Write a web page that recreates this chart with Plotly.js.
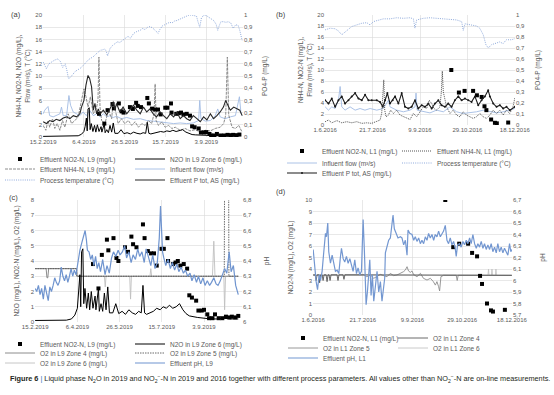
<!DOCTYPE html>
<html><head><meta charset="utf-8">
<script src="https://cdn.plot.ly/plotly-3.0.1.min.js"></script>
<style>html,body{margin:0;padding:0;background:#fff}</style>
</head><body>
<div id="chart" style="width:554px;height:395px"></div>
<script>
// ---------- DATA ----------
const start2019 = '2019-02-15';
const start2016 = '2016-06-01';

// Panel (a) + (c): 2019, line L9 (days after 15.2.2019)
const tempA_days = [0,4,7,10,14,18,21,24,27,29,31,33,36,39,42,45,49,52,55,58,61,64,67,70,73,75,77,79,82,85,88,91,94,98,101,104,107,111,115,119,122,125,128,131,134,137,139,141,143,146,149,152,155,158,161,164,167,170,173,176,179,182,185,188,190,192,194,197,200,203,206,209,212,214,216,218,221,224,227,230,233,236,239,241,244];
const tempA_vals = [12.3,11.2,12.0,12.3,12.6,12.8,12.4,11.4,12.0,11.0,9.6,9.7,10.3,10.7,11.0,11.2,11.7,12.2,12.6,12.9,13.1,13.5,13.9,14.2,14.3,14.4,14.2,13.3,14.5,15.0,15.3,15.6,15.5,15.9,16.3,16.5,16.2,17.0,17.3,17.5,17.8,17.6,18.0,18.1,17.9,17.5,17.3,17.0,17.6,18.2,18.4,18.6,18.8,18.7,19.0,19.1,19.3,19.5,19.6,19.9,20.0,20.0,19.9,19.8,18.8,18.0,19.5,20.0,19.9,19.6,19.3,19.1,18.5,17.5,18.3,18.9,18.9,18.8,18.9,18.7,17.8,18.4,18.3,17.5,15.8];

const flowA_days = [0,2,6,8,12.3,16.4,20.5,22.5,24.6,28.7,31.6,33.6,36.9,41,45,49,53,57,61.5,65.6,69.7,73.8,77.9,82,86,90,96,102.5,110.7,119,127,135,143.4,151.6,160,168,176,184,190.6,192,193.4,198.8,205,211,214,217,223,229.5,235.7,240.6,242.6,244];
const flowA_vals = [3.8,4.4,5.0,3.5,3.3,3.5,3.8,4.9,3.5,3.5,6.8,5.2,4.1,3.8,3.5,4.1,3.5,4.4,3.5,3.8,3.3,3.8,3.3,3.5,3.2,3.4,3.0,3.2,2.9,3.0,2.7,2.6,2.5,2.3,2.2,2.3,2.2,2.3,2.7,6.0,3.0,2.6,2.7,3.5,4.6,3.3,3.0,3.3,3.5,6.6,3.8,3.5];

const nh4A_days = [0,3.3,6,8,11.5,14.3,17.2,20.5,23.8,26.6,30.7,34.8,39,43,47,50,52.5,55,58,61.5,65.6,67.2,68.4,69.7,71.7,75.8,80,84,86,88,92,96,100,104.5,108.6,112.7,116.8,121,125,129,133,136,137.3,138.5,141.4,145.5,149.6,153.7,157.8,162,168,174,180,186.5,192.6,198.8,205,211,217,221.3,223.8,225.8,227.5,231.6,235.7,239.8,243.9];
const nh4A_vals = [1.9,1.1,2.7,1.6,3.0,1.4,2.2,1.1,2.7,1.6,3.8,2.2,2.7,3.3,6.0,7.9,6.6,4.9,6.6,3.8,4.9,6.0,13.1,4.9,2.7,2.2,4.4,3.0,6.0,4.9,2.2,3.0,2.2,2.7,1.9,2.5,1.6,2.2,1.9,2.7,2.2,3.8,8.7,2.7,1.9,2.5,1.6,1.9,1.4,1.6,1.1,1.4,1.0,1.2,0.8,1.1,1.0,1.4,1.6,2.2,3.6,13.1,3.6,1.6,1.4,1.9,0.8];

const ptotA_days = [0,4,8,12,16,20.5,24.6,28.7,32.8,37,41,45,47,50,52.5,55,57,59.4,61.5,63.5,65.6,67.6,69.7,73.8,78,82,86,88,90,94,98,102.5,106.6,110.7,114.8,119,123,127,131,135,139,143.4,147.5,151.6,155.7,160,164,168,172,176,180,184,188.5,192.6,196.7,200.8,205,209,213,217,221,223.8,227.5,229.5,233.6,237.7,241,244];
const ptotA_vals = [0.125,0.11,0.135,0.125,0.145,0.135,0.155,0.165,0.15,0.175,0.165,0.19,0.245,0.3,0.425,0.505,0.48,0.41,0.22,0.275,0.19,0.23,0.19,0.22,0.18,0.23,0.285,0.22,0.275,0.205,0.245,0.19,0.23,0.26,0.22,0.19,0.245,0.205,0.23,0.19,0.165,0.205,0.175,0.15,0.19,0.165,0.205,0.15,0.175,0.15,0.135,0.175,0.15,0.125,0.165,0.14,0.19,0.15,0.175,0.205,0.245,0.3,0.245,0.22,0.245,0.23,0.22,0.175];

const n2o_days = [0,18,37,43,47,50,51.5,53,54,55,56.5,57.6,59,61,63,64.6,66.5,68.5,71,72,75,76,78,80,82,84,86,88,92,95.5,99,103,107,111,115,119,122.6,125.7,127.7,129.6,132,136,140,144,148,151.6,155.5,159,163,167,171,175,178.7,182.6,186.5,192,200,207.7,215.5,223,231,240.6];
const n2o_vals = [0.1,0.1,0.12,0.2,0.45,0.9,1.75,3.1,1.0,4.6,4.8,1.2,2.2,0.9,1.9,0.8,2.0,0.9,1.7,0.8,2.2,0.7,1.2,0.7,1.9,0.8,2.3,0.6,0.6,1.2,0.55,0.7,0.5,0.8,0.6,0.5,0.7,0.6,2.4,0.6,0.5,0.6,0.7,0.9,0.8,1.0,0.9,1.1,0.9,1.0,1.2,0.8,0.55,0.4,0.35,0.3,0.25,0.2,0.2,0.25,0.2,0.2];

const no2L9_days = [68.5,75,79,85,86.7,92.8,96.3,98.6,106.4,110,114,116,120,127.7,129.6,133.5,137.3,140.8,144,149.7,152.4,156.7,157.4,163.2,166.3,169,172,176,180,182.6,185.7,190.7,193.4,197.3,200,203.9,206,210,213,217.4,221.7,226,230,233,237,240.6];
const no2L9_vals = [3.8,2.2,4.4,5.4,4.7,5.5,4.2,4.0,4.9,4.6,5.6,5.1,4.9,6.4,5.5,4.65,4.5,4.5,3.7,4.8,4.8,5.5,4.0,3.8,3.9,4.0,3.7,3.8,3.5,1.75,1.6,1.4,0.75,0.75,0.8,0.5,0.25,0.25,0.5,0.25,0.25,0.35,0.3,0.35,0.3,0.4];

const o2z4C_days = [0,13,14,15,16,17,49,49.5,60,90,120,150,180,210,240.6];
const o2z4C_vals = [3.5,3.5,2.9,2.9,3.5,3.5,3.5,3.0,3.0,3.02,3.0,3.0,2.98,3.0,3.0];
const o2z5C_days = [0,49,49.5,224,224.5,229,229.5,240.6];
const o2z5C_vals = [3.5,3.5,3.0,3.0,12,12,3.0,3.0];
const o2z6C_days = [0,49,49.5,82,83,84,112,113,114,136,137,138,210,211.6,213,223.5,224.4,225.5,240.6];
const o2z6C_vals = [3.5,3.5,3.0,3.0,2.3,3.0,3.0,1.5,3.0,3.0,3.5,3.0,3.0,5.3,3.0,3.0,0.8,3.0,3.0];

const phC_days = [0,1.9,3.9,5.8,7.7,9.7,11.6,13.5,15.5,17.4,19.3,21.3,23.2,25.1,27.1,29,30.9,32.9,34.8,36.8,38.7,40.6,42.6,44.5,46.4,48.4,49.9,51.5,53,55.3,57.6,59.2,60.7,61.9,63.8,65.8,67.7,69.6,71.6,73.5,75.4,77.4,80,82.8,85.1,87.8,90.5,92.8,95.6,98.3,100.6,103.3,106,108.3,111,113.7,116,118.8,121.5,123.8,126.5,129.2,131.5,134.2,137,139.3,142,144.7,147,148.5,149.7,150.9,152.4,154.7,157.4,160.2,162.5,165.2,167.9,170.2,172.9,175.6,178,180.7,183.4,185.7,188.4,191.1,193.4,196.1,198.8,201.2,203.9,206.6,208.9,211.6,214.3,216.6,219.3,222,224.4,227,229.8,232.1,234.8,237.5,240.6];
const phC_vals = [6.22,6.20,6.24,6.18,6.22,6.15,6.24,6.18,6.14,6.23,6.20,6.24,6.29,6.26,6.24,6.27,6.36,6.30,6.27,6.31,6.26,6.30,6.35,6.30,6.34,6.31,6.37,6.43,6.47,6.52,6.57,6.60,6.54,6.47,6.46,6.41,6.44,6.37,6.43,6.35,6.39,6.33,6.41,6.31,6.37,6.32,6.42,6.46,6.43,6.47,6.44,6.46,6.50,6.42,6.46,6.39,6.44,6.41,6.48,6.43,6.46,6.39,6.48,6.43,6.37,6.44,6.35,6.39,6.55,6.76,6.62,6.46,6.42,6.37,6.41,6.35,6.39,6.34,6.38,6.33,6.36,6.32,6.34,6.30,6.32,6.27,6.31,6.26,6.30,6.25,6.29,6.24,6.27,6.24,6.26,6.29,6.25,6.24,6.27,6.31,6.35,6.32,6.46,6.33,6.37,6.24,6.18];

// Panel (b) + (d): 2016, line L1 (days after 1.6.2016)
const tempB_days = [0,5.3,10.5,14,17.5,20,23.5,28,33.3,38.6,43.9,47.4,50.9,56,61.4,68.4,75.4,82.5,89.5,93,94.7,96.5,103.5,110.5,117.5,124.6,131.6,138.6,143.9,145.6,147.4,152.6,159.6,163,166.7,169.5,172,175.4,179,184,187.7,191,196.5,200];
const tempB_vals = [17.3,17.6,17.5,17.1,16.4,16.8,17.3,17.9,18.2,18.5,18.6,18.2,18.8,19.0,19.3,19.3,19.5,19.4,19.5,19.3,17.6,19.1,19.4,19.5,19.4,19.3,19.2,19.1,18.8,17.2,18.4,18.2,18.0,17.6,16.4,14.6,14.0,14.6,14.8,15.1,14.8,15.5,15.5,15.7];

const flowB_days = [0,3.5,7,10.5,14,15.8,17.5,21,26.3,31.6,36.8,42,47.4,54.4,61.4,66.7,68.4,75.4,82.5,89.5,94.7,95.8,97,103.5,110.5,117.5,124.6,131.6,138.6,145.6,152.6,159.6,166.7,173.7,180.7,187.7,194.7,200];
const flowB_vals = [3.3,2.7,3.3,3.0,4.5,7.0,3.3,2.7,3.3,2.7,3.0,2.7,3.0,2.7,3.0,4.5,3.3,2.7,2.4,2.7,3.3,5.8,2.7,2.4,2.2,2.7,2.4,3.3,2.4,2.1,2.2,2.4,2.7,2.4,2.2,2.4,2.7,3.0];

const nh4B_days = [0,3.5,7,12.3,17.5,22.8,28,33.3,38.6,43.9,49,54.4,57.9,59.6,60.7,61.8,62.8,64.2,66.7,69,72,75.4,79,82.5,86,89.5,93,96.5,100,103.5,107,109.8,112.3,114.7,117.5,121,122.5,123.5,124.6,126.3,128,131.6,135,138.6,142,145.6,149,152.6,156,159.6,163,166.7,170,173.7,177,180.7,184,187.7,191,194.7,198,200];
const nh4B_vals = [0.6,0.9,0.4,0.8,0.4,0.6,0.4,0.6,0.3,0.4,0.3,0.6,0.9,2.1,5.2,8.2,2.7,1.5,1.8,2.7,2.1,2.7,1.8,1.5,1.2,1.0,2.1,1.5,2.4,3.3,3.0,4.5,3.9,3.0,2.7,3.3,6.0,9.8,6.0,4.5,3.3,2.1,2.7,1.8,1.5,2.4,1.8,1.5,1.2,1.5,2.1,1.5,1.2,1.8,2.7,2.1,2.7,1.8,2.7,2.1,3.3,4.9];

const ptotB_days = [0,3.5,7,10.5,14,17.5,21,24.6,28,31.6,35.1,38.6,42.1,45.6,49.1,54.4,57.9,60.7,63.2,65.6,68.4,71.2,73.7,77.2,80.7,84.2,87.7,91.2,94.7,98.2,101.8,105.3,108.8,112.3,115.8,119.3,122.8,126.3,129.8,133.3,136.8,140.4,143.9,147.4,150.9,154.4,157.9,161.4,164.9,168.4,171.9,173.7,177.2,180.7,184.2,187.7,191.2,194.7,200];
const ptotB_vals = [0.225,0.195,0.24,0.165,0.225,0.26,0.195,0.225,0.26,0.29,0.24,0.225,0.275,0.225,0.225,0.225,0.21,0.165,0.225,0.29,0.195,0.225,0.26,0.195,0.29,0.165,0.15,0.165,0.225,0.15,0.18,0.165,0.195,0.15,0.195,0.225,0.18,0.165,0.195,0.165,0.225,0.26,0.225,0.24,0.225,0.21,0.26,0.18,0.225,0.26,0.315,0.26,0.195,0.165,0.18,0.15,0.165,0.135,0.165];

const no2L1_days = [133,141,147,156,160,165,168,170,175,179,181,193];
const no2L1_vals = [10,5.9,6.2,6.2,5.4,5.1,3.4,2.7,1.0,0.4,0.3,0.45];

const o2z4D_days = [0,2,3,4,6,6.5,7.5,9,10,11,13,14,15,16,17,18,24,25,26,30,31,32,200];
const o2z4D_vals = [3.5,3.5,3.0,3.5,3.5,2.8,3.5,3.5,3.0,3.5,3.5,2.9,3.5,3.5,3.0,3.5,3.5,3.0,3.5,3.5,3.1,3.5,3.45];
const o2z5D_days = [0,51,54,57.6,61,64.3,67.7,71,74.4,77.7,81,84.4,87.8,91,92.8,94.5,96,97.8,99.5,101,104.5,108,111,114.6,118,121,123,124.6,126.3,127.3,128.6,131.3,144,145,146,200];
const o2z5D_vals = [3.45,3.48,3.33,3.48,3.19,3.33,3.53,3.42,3.33,3.62,3.42,3.48,3.62,3.77,3.91,4.2,3.83,3.71,3.83,3.53,3.33,3.62,3.19,3.04,3.19,2.9,2.6,2.9,2.46,2.09,3.33,3.45,3.45,3.0,3.45,3.45];
const o2z6D_days = [0,176,176.5,177,179.5,180,180.5,183.5,184,184.5,200];
const o2z6D_vals = [3.45,3.45,4.0,3.45,3.45,4.0,3.45,3.45,4.0,3.45,3.45];

const phD_days = [0,1.3,3,4.4,6,7.4,9,10.7,12.4,13.4,14.7,15.7,17.4,19.1,20.8,22.4,24.1,25.8,27.5,28.5,30.2,31.8,33.5,35.2,36.9,38.5,40.2,41.9,43.6,45.2,46.9,48.6,50.3,51.6,53.3,54.6,55.9,57,58.3,59.6,61,62.6,64.3,66,67.7,69.3,71,72,72.7,74.4,76,77.7,79.4,80.4,81.7,83.8,85.4,87.8,89.4,91.1,92.8,94.5,95.5,97.2,99.5,101.2,102.8,104.5,106.2,107.9,109.5,111.2,112.9,114.6,116.2,117.9,119.6,121.3,122.9,124.6,126.3,128,129.6,131.3,133,134.7,136.3,138,139.7,141.4,143,144,145.4,147.4,149,150.8,152.4,154.1,155.8,157.5,159.1,160.8,162.5,164.2,165.8,167.5,169.2,170.9,172.5,174.2,175.9,177.6,179.2,180.9,182.6,184.3,185.9,187.6,189.3,191,192.6,194.3,196,197.7,199,200];
const phD_vals = [6.27,6.11,5.99,5.92,6.05,6.0,6.08,6.25,6.41,6.38,6.5,6.25,6.15,6.22,6.14,6.08,6.09,6.06,6.21,6.28,6.19,6.16,6.21,6.15,6.19,6.14,6.08,6.18,6.06,6.11,6.05,6.08,6.53,6.25,5.79,5.9,6.02,6.18,5.87,6.05,5.82,5.95,6.08,5.9,5.99,5.82,5.96,6.02,6.24,6.29,6.35,6.37,6.48,6.57,6.45,6.4,6.37,6.38,6.37,6.31,6.35,6.22,6.44,6.41,6.4,6.35,6.38,6.34,6.37,6.32,6.35,6.32,6.38,6.35,6.41,6.37,6.4,6.35,6.4,6.38,6.43,6.38,6.41,6.43,6.48,6.35,6.32,6.37,6.31,6.34,6.28,6.21,6.31,6.32,6.29,6.34,6.31,6.35,6.32,6.37,6.32,6.4,6.32,6.28,6.32,6.29,6.34,6.28,6.32,6.27,6.31,6.27,6.32,6.25,6.29,6.24,6.32,6.25,6.29,6.24,6.28,6.25,6.22,6.32,6.25,6.27];

// ---------- HELPERS ----------
const W = 554, H = 395;
const px = v => v / W, py = v => 1 - v / H;
const DAY = 86400000;
function toDates(start, days) {
  const base = Date.parse(start + 'T00:00:00Z');
  return days.map(d => { const s = new Date(base + d * DAY).toISOString(); return s.slice(0,10) + ' ' + s.slice(11,19); });
}
const FONT = '"Liberation Sans", Arial, sans-serif';
const TXT = '#595959', GRID = '#d9d9d9';

const traces = [], legends = {};
function add(t, tx, ty) {
  const n = traces.length + 1;
  const id = n === 1 ? 'legend' : 'legend' + n;
  t.legend = id; t.showlegend = true; t.hoverinfo = 'skip';
  traces.push(t);
  legends[id] = { x: px(tx - 40), y: py(ty), xanchor: 'left', yanchor: 'middle', bgcolor: 'rgba(0,0,0,0)',
    borderwidth: 0, font: { family: FONT, size: 6.5, color: TXT }, itemwidth: 30, tracegroupgap: 0 };
}
function line(name, start, days, vals, xa, ya, style, mode) {
  return { type: 'scatter', mode: mode || 'lines', name, x: toDates(start, days), y: vals, xaxis: xa, yaxis: ya, line: style };
}
function squares(name, start, days, vals, xa, ya) {
  return { type: 'scatter', mode: 'markers', name, x: toDates(start, days), y: vals, xaxis: xa, yaxis: ya,
    marker: { symbol: 'square', size: 4, color: '#000' } };
}

// ---------- TRACES ----------
// (a)
add(line('Process temperature (°C)', start2019, tempA_days, tempA_vals, 'x', 'y', { color: '#8faadc', width: 1, dash: '1px,1.2px' }), 40, 180);
add(line('Influent flow (m³/s)', start2019, flowA_days, flowA_vals, 'x', 'y', { color: '#a2bbe3', width: 0.9 }), 170, 169);
add(line('Effluent NH4-N, L9 (mg/L)', start2019, nh4A_days, nh4A_vals, 'x', 'y', { color: '#7f7f7f', width: 0.9, dash: '3px,1px' }), 40, 169);
add(line('N2O in L9 Zone 6 (mg/L)', start2019, n2o_days, n2o_vals, 'x', 'y', { color: '#000', width: 1 }), 170, 159);
add(squares('Effluent NO2-N, L9 (mg/L)', start2019, no2L9_days, no2L9_vals, 'x', 'y'), 40, 159);
add(line('Effluent P tot, AS (mg/L)', start2019, ptotA_days, ptotA_vals, 'x', 'y2', { color: '#262626', width: 1.1 }), 170, 180);
// (b)
add(line('Process temperature (°C)', start2016, tempB_days, tempB_vals, 'x2', 'y3', { color: '#8faadc', width: 1, dash: '1px,1.2px' }), 437, 163);
add(line('Influent flow (m³/s)', start2016, flowB_days, flowB_vals, 'x2', 'y3', { color: '#a2bbe3', width: 0.9 }), 322, 163);
add(line('Effluent NH4-N, L1 (mg/L)', start2016, nh4B_days, nh4B_vals, 'x2', 'y3', { color: '#404040', width: 0.9, dash: '1px,1px' }), 437, 151);
add(squares('Effluent NO2-N, L1 (mg/L)', start2016, no2L1_days, no2L1_vals, 'x2', 'y3'), 322, 151);
{ const t = line('Effluent P tot, AS (mg/L)', start2016, ptotB_days, ptotB_vals, 'x2', 'y4', { color: '#1a1a1a', width: 1.1 }, 'lines+markers');
  t.marker = { size: 2, color: '#1a1a1a' }; add(t, 322, 173); }
// (c)
add(line('O2 in L9 Zone 6 (mg/L)', start2019, o2z6C_days, o2z6C_vals, 'x3', 'y5', { color: '#bfbfbf', width: 0.9 }), 40, 363);
add(line('O2 in L9 Zone 4 (mg/L)', start2019, o2z4C_days, o2z4C_vals, 'x3', 'y5', { color: '#7f7f7f', width: 0.9 }), 40, 353);
add(line('O2 in L9 Zone 5 (mg/L)', start2019, o2z5C_days, o2z5C_vals, 'x3', 'y5', { color: '#595959', width: 0.9, dash: '1.5px,1px' }), 170, 353);
add(line('N2O in L9 Zone 6 (mg/L)', start2019, n2o_days, n2o_vals, 'x3', 'y5', { color: '#000', width: 1 }), 170, 344);
add(squares('Effluent NO2-N, L9 (mg/L)', start2019, no2L9_days, no2L9_vals, 'x3', 'y5'), 40, 344);
add(line('Effluent pH, L9', start2019, phC_days, phC_vals, 'x3', 'y6', { color: '#6f94cf', width: 1.2 }), 170, 363);
// (d)
add(line('O2 in L1 Zone 6', start2016, o2z6D_days, o2z6D_vals, 'x4', 'y7', { color: '#c4c4c4', width: 0.9 }), 433, 348);
add(line('O2 in L1 Zone 5', start2016, o2z5D_days, o2z5D_vals, 'x4', 'y7', { color: '#8c8c8c', width: 0.9 }), 323, 348);
add(line('O2 in L1 Zone 4', start2016, o2z4D_days, o2z4D_vals, 'x4', 'y7', { color: '#595959', width: 0.9 }), 433, 338);
add(squares('Effluent NO2-N, L1 (mg/L)', start2016, no2L1_days, no2L1_vals, 'x4', 'y7'), 323, 338);
add(line('Effluent pH, L1', start2016, phD_days, phD_vals, 'x4', 'y8', { color: '#7397d1', width: 1.2 }), 323, 358);

// ---------- AXES ----------
const tickFont = { family: FONT, size: 6, color: TXT };
const titleFont = { family: FONT, size: 6.5, color: TXT };
function xAxis(l, r, anchor, range, tick0) {
  return { domain: [px(l), px(r)], anchor, type: 'date', range, tick0, dtick: 50 * DAY, tickformat: '%-d.%-m.%Y',
    showgrid: true, gridcolor: GRID, gridwidth: 0.6, zeroline: false, showline: false, ticks: '', tickfont: tickFont };
}
function yLeft(top, bottom, anchor, range, dtick, title, standoff) {
  return { domain: [py(bottom), py(top)], anchor, range, dtick, tick0: 0, showgrid: true, gridcolor: GRID, gridwidth: 0.6,
    zeroline: false, showline: false, ticks: '', tickfont: tickFont, title: { text: title, font: titleFont, standoff } };
}
function yRight(overlay, anchor, range, tick0, title, standoff) {
  return { overlaying: overlay, side: 'right', anchor, range, tick0, dtick: 0.1, showgrid: false, zeroline: false,
    showline: false, ticks: '', tickfont: tickFont, title: { text: title, font: titleFont, standoff } };
}
const r2019 = ['2019-02-14 20:00', '2019-10-18'];
const r2016 = ['2016-05-31 20:00', '2016-12-18 04:00'];

const labelFont = { family: FONT, size: 7.5, color: '#404040' };
function label(text, x, y) {
  return { text, x: px(x), y: py(y), xref: 'paper', yref: 'paper', xanchor: 'left', yanchor: 'middle', showarrow: false, font: labelFont };
}

const layout = {
  width: W, height: H, autosize: false, margin: { l: 0, r: 0, t: 0, b: 0 },
  paper_bgcolor: '#fff', plot_bgcolor: '#fff', separators: ',.',
  font: { family: FONT, color: TXT },
  xaxis: xAxis(43, 243, 'y', r2019, start2019),
  yaxis: yLeft(15, 137, 'x', [0, 20], 2, 'NH4-N, NO2-N, N2O (mg/L),<br>Flow (m³/s), T (°C)', 4),
  yaxis2: yRight('y', 'x', [0, 1], 0, 'PO4-P (mg/L)', 10),
  xaxis2: xAxis(325, 515, 'y3', r2016, start2016),
  yaxis3: yLeft(15, 125, 'x2', [0, 20], 2, 'NH4-N, NO2-N (mg/L),<br>Flow (m³/s), T (°C)', 4),
  yaxis4: yRight('y3', 'x2', [0, 1], 0, 'PO4-P (mg/L)', 11),
  xaxis3: xAxis(35, 242, 'y5', r2019, start2019),
  yaxis5: yLeft(200, 322, 'x3', [0, 8], 1, 'N2O (mg/L), NO2-N (mg/L), O2 (mg/L)', 10),
  yaxis6: yRight('y5', 'x3', [6, 6.8], 6, 'pH', 13),
  xaxis4: xAxis(313, 512, 'y7', r2016, start2016),
  yaxis7: yLeft(200, 315, 'x4', [0, 10], 1, 'NO2-N (mg/L), O2 (mg/L)', 11),
  yaxis8: yRight('y7', 'x4', [5.7, 6.7], 5.7, 'pH', 19),
  annotations: [
    label('(a)', 9, 15), label('(b)', 274, 15), label('(c)', 7, 197), label('(d)', 274, 192),
    { text: '<b>Figure 6</b> <span style="color:#2e75b6">|</span> Liquid phase N<sub>2</sub>O in 2019 and NO<sub>2</sub><sup>−</sup>-N in 2019 and 2016 together with different process parameters. All values other than NO<sub>2</sub><sup>−</sup>-N are on-line measurements.',
      x: px(8), y: py(378), xref: 'paper', yref: 'paper', xanchor: 'left', yanchor: 'middle', showarrow: false, font: { family: FONT, size: 7.3, color: '#231f20' } }
  ]
};
Object.assign(layout, legends);

Plotly.newPlot('chart', traces, layout, { staticPlot: true, displayModeBar: false });
</script>
</body></html>
